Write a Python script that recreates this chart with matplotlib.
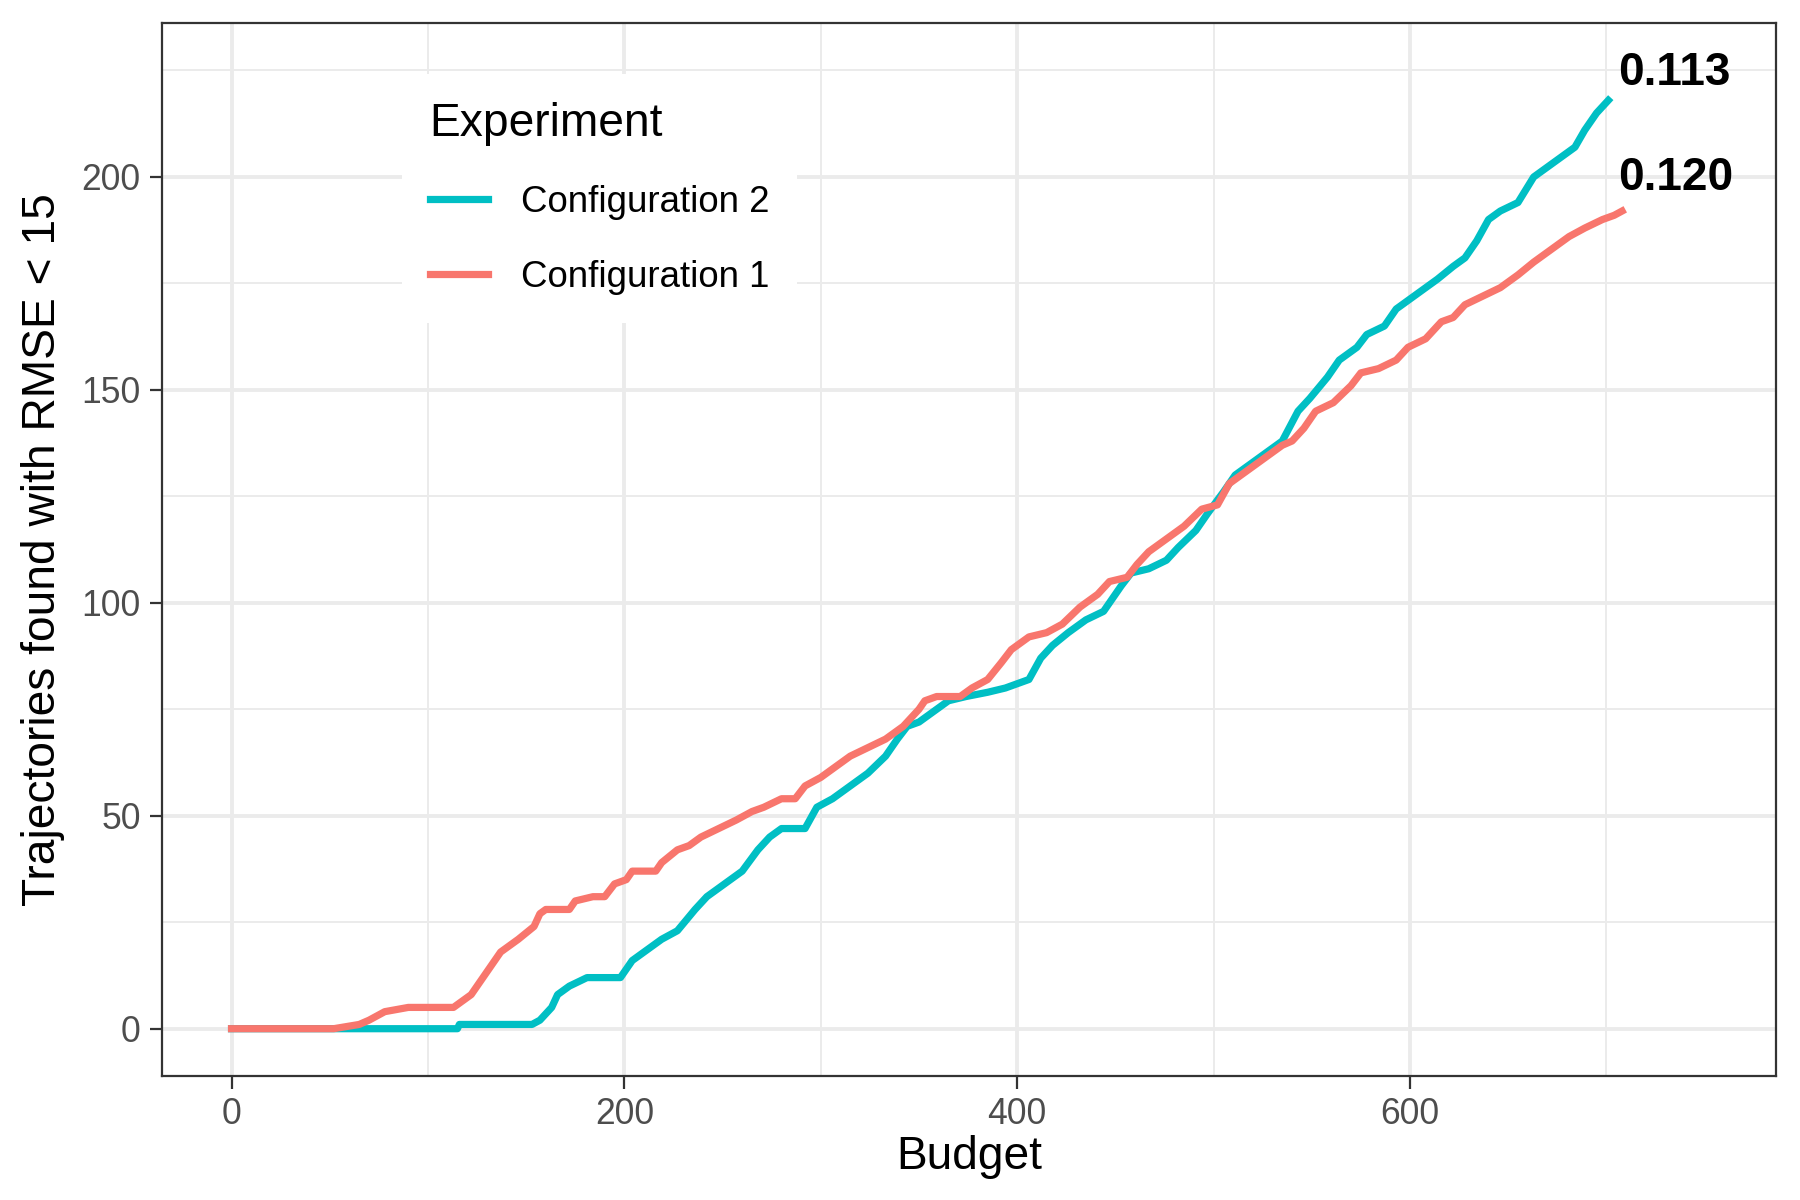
import matplotlib
matplotlib.use("Agg")
import matplotlib.pyplot as plt
from matplotlib.ticker import MultipleLocator

plt.rcParams['font.family'] = ['Liberation Sans', 'DejaVu Sans']

# Configuration 1 (cumulative count vs budget)
budget_c1 = [0, 52, 65, 70, 78, 90, 113, 116, 122, 128, 137, 146, 154, 157, 160, 172,
             175, 184, 190, 195, 201, 204, 216, 219, 227, 233, 239, 248, 257, 265, 271,
             280, 287, 292, 300, 306, 315, 324, 333, 342, 350, 353, 359, 371, 377, 385,
             392, 397, 406, 415, 423, 432, 441, 447, 456, 461, 467, 476, 485, 494, 502,
             508, 517, 526, 535, 540, 546, 552, 561, 570, 575, 584, 593, 599, 608, 616,
             622, 628, 637, 646, 655, 663, 672, 681, 689, 698, 704, 708]
found_c1 = [0, 0, 1, 2, 4, 5, 5, 6, 8, 12, 18, 21, 24, 27, 28, 28,
            30, 31, 31, 34, 35, 37, 37, 39, 42, 43, 45, 47, 49, 51, 52,
            54, 54, 57, 59, 61, 64, 66, 68, 71, 75, 77, 78, 78, 80, 82,
            86, 89, 92, 93, 95, 99, 102, 105, 106, 109, 112, 115, 118, 122, 123,
            128, 131, 134, 137, 138, 141, 145, 147, 151, 154, 155, 157, 160, 162, 166,
            167, 170, 172, 174, 177, 180, 183, 186, 188, 190, 191, 192]

# Configuration 2
budget_c2 = [0, 52, 115, 116, 153, 157, 163, 166, 172, 181, 198, 204, 213, 219, 227,
             236, 242, 251, 260, 268, 274, 280, 292, 298, 306, 315, 324, 333, 339, 344,
             350, 356, 365, 374, 385, 394, 406, 412, 418, 426, 435, 444, 453, 458, 467,
             476, 482, 491, 497, 505, 511, 520, 529, 535, 543, 549, 558, 564, 573, 578,
             587, 593, 599, 608, 614, 622, 628, 634, 640, 646, 655, 663, 669, 675, 684,
             689, 695, 701]
found_c2 = [0, 0, 0, 1, 1, 2, 5, 8, 10, 12, 12, 16, 19, 21, 23,
            28, 31, 34, 37, 42, 45, 47, 47, 52, 54, 57, 60, 64, 68, 71,
            72, 74, 77, 78, 79, 80, 82, 87, 90, 93, 96, 98, 104, 107, 108,
            110, 113, 117, 121, 126, 130, 133, 136, 138, 145, 148, 153, 157, 160, 163,
            165, 169, 171, 174, 176, 179, 181, 185, 190, 192, 194, 200, 202, 204, 207,
            211, 215, 218]

labels = ["0.113", "0.120"]
label_x = [706, 706]
label_y = [224.5, 199.7]

teal = '#00BFC4'
salmon = '#F8766D'

fig = plt.figure(figsize=(9, 6), dpi=200)
ax = fig.add_axes([0.0898, 0.103, 0.897, 0.878])

ax.plot(budget_c2, found_c2, color=teal, lw=2.6, label='Configuration 2', zorder=3)
ax.plot(budget_c1, found_c1, color=salmon, lw=2.6, label='Configuration 1', zorder=3)

for t, x, y in zip(labels, label_x, label_y):
    ax.text(x, y, t, fontsize=16.5, fontweight='bold', ha='left', va='center', zorder=4)

ax.set_xlim(-35.6, 786.5)
ax.set_ylim(-11.2, 236.2)

ax.xaxis.set_major_locator(MultipleLocator(200))
ax.xaxis.set_minor_locator(MultipleLocator(100))
ax.yaxis.set_major_locator(MultipleLocator(50))
ax.yaxis.set_minor_locator(MultipleLocator(25))

ax.grid(which='major', color='#EBEBEB', lw=1.4, zorder=0)
ax.grid(which='minor', color='#EBEBEB', lw=0.7, zorder=0)
ax.set_axisbelow(True)

for s in ax.spines.values():
    s.set_color('#333333')
    s.set_linewidth(0.8)

ax.tick_params(which='major', length=4.5, width=0.8, color='#333333',
               labelsize=12.8, labelcolor='#4D4D4D', pad=3)
ax.tick_params(which='minor', length=0)

ax.set_xlabel('Budget', fontsize=16.6, labelpad=1)
ax.set_ylabel('Trajectories found with RMSE < 15', fontsize=16.6, labelpad=6)

leg = ax.legend(loc='upper left', bbox_to_anchor=(0.149, 0.951), title='Experiment',
                fontsize=13.2, title_fontsize=16.6, frameon=True, fancybox=False,
                framealpha=1, edgecolor='none', facecolor='white',
                handlelength=1.6, handletextpad=0.9, labelspacing=1.1,
                borderpad=0.75, borderaxespad=0)
leg._legend_box.align = 'left'
leg._legend_box.sep = 14
leg.set_zorder(5)

fig.savefig('out.png', dpi=200)
